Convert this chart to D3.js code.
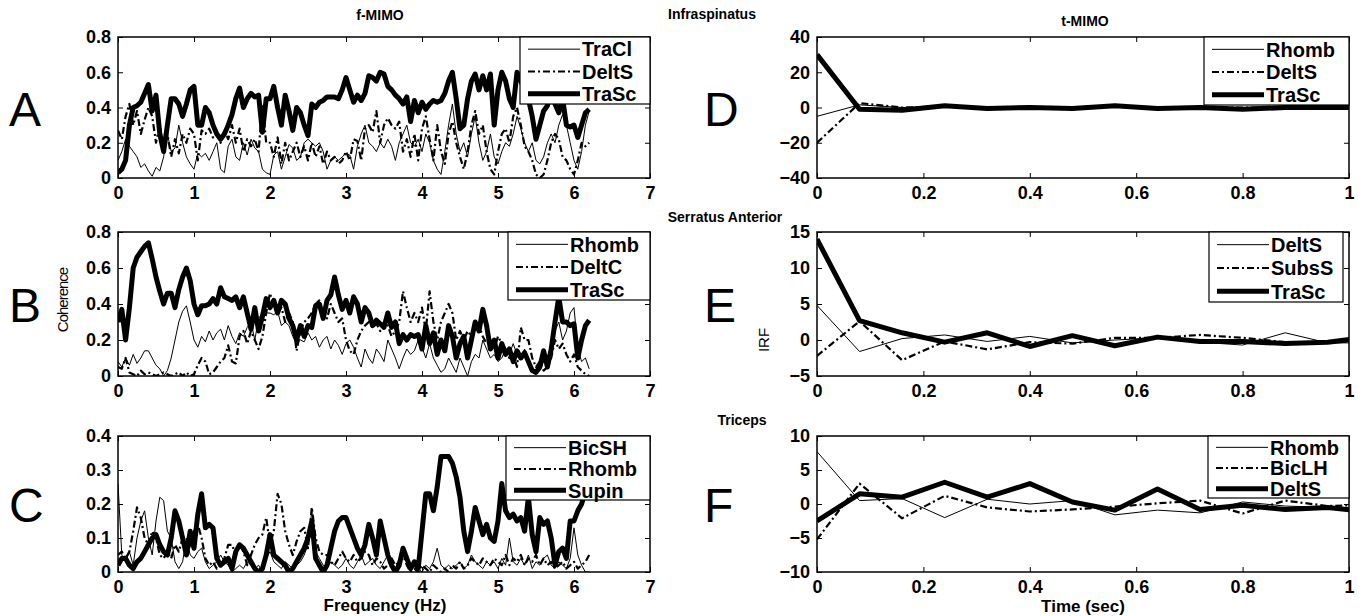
<!DOCTYPE html>
<html>
<head>
<meta charset="utf-8">
<script src="https://cdn.jsdelivr.net/npm/d3@7"></script>
<style>
  body { margin: 0; background: #fff; }
  svg { font-family: 'Liberation Sans', Arial, sans-serif; }
</style>
</head>
<body>
<svg id="fig" width="1366" height="616"></svg>
<script>
// frequency grid of the coherence panels (Hz)
const freqStep = 0.05;
const freqCount = 125;
const freq = d3.range(freqCount).map(i => +(i * freqStep).toFixed(2));

// IRF time lags (sec)
const lags = [0, 0.08, 0.16, 0.24, 0.32, 0.40, 0.48, 0.56, 0.64, 0.72, 0.80, 0.88, 0.96, 1.04];

// Panel A - Infraspinatus coherence
const aTraCl = [0.10,0.15,0.22,0.18,0.15,0.12,0.06,0.08,0.04,0.01,
  0.06,0.04,0.12,0.25,0.15,0.17,0.30,0.20,0.12,0.08,
  0.05,0.14,0.12,0.14,0.10,0.15,0.20,0.05,0.03,0.18,
  0.22,0.12,0.10,0.20,0.13,0.22,0.17,0.15,0.05,0.03,
  0.02,0.13,0.15,0.05,0.12,0.19,0.17,0.10,0.12,0.20,
  0.22,0.20,0.18,0.20,0.15,0.05,0.10,0.12,0.10,0.12,
  0.14,0.13,0.05,0.18,0.25,0.30,0.20,0.18,0.15,0.20,
  0.17,0.22,0.18,0.10,0.20,0.25,0.30,0.20,0.18,0.22,
  0.15,0.25,0.20,0.10,0.05,0.02,0.15,0.30,0.42,0.25,
  0.15,0.20,0.12,0.25,0.35,0.20,0.10,0.15,0.25,0.12,
  0.08,0.15,0.20,0.18,0.25,0.35,0.28,0.20,0.15,0.20,
  0.10,0.08,0.12,0.20,0.25,0.20,0.30,0.36,0.30,0.20,
  0.10,0.05,0.15,0.30,0.38];
const aDeltS = [0.27,0.22,0.35,0.42,0.30,0.38,0.25,0.33,0.40,0.35,
  0.20,0.30,0.15,0.25,0.12,0.22,0.14,0.25,0.20,0.28,
  0.25,0.10,0.27,0.25,0.28,0.23,0.25,0.20,0.27,0.22,
  0.30,0.20,0.28,0.15,0.22,0.18,0.22,0.15,0.42,0.20,
  0.20,0.12,0.23,0.08,0.20,0.10,0.15,0.20,0.12,0.18,
  0.10,0.20,0.12,0.18,0.08,0.15,0.10,0.12,0.08,0.10,
  0.15,0.10,0.22,0.21,0.10,0.28,0.30,0.26,0.38,0.20,
  0.30,0.34,0.30,0.28,0.32,0.15,0.22,0.12,0.25,0.10,
  0.28,0.35,0.22,0.10,0.30,0.15,0.08,0.25,0.32,0.20,
  0.12,0.05,0.15,0.30,0.38,0.25,0.30,0.15,0.05,0.02,
  0.15,0.25,0.28,0.20,0.35,0.40,0.30,0.18,0.15,0.10,
  0.02,0.00,0.02,0.10,0.20,0.25,0.22,0.12,0.10,0.05,
  0.02,0.10,0.20,0.18,0.20];
const aTraSc = [0.03,0.05,0.10,0.30,0.40,0.41,0.43,0.48,0.53,0.38,
  0.47,0.25,0.15,0.30,0.45,0.45,0.42,0.35,0.42,0.50,
  0.52,0.30,0.30,0.40,0.37,0.30,0.25,0.22,0.25,0.30,
  0.36,0.45,0.51,0.40,0.45,0.48,0.46,0.47,0.26,0.45,
  0.45,0.52,0.40,0.30,0.47,0.38,0.27,0.40,0.37,0.30,
  0.24,0.42,0.40,0.43,0.44,0.46,0.46,0.46,0.45,0.50,
  0.57,0.50,0.43,0.47,0.44,0.48,0.58,0.57,0.55,0.60,
  0.59,0.52,0.50,0.47,0.45,0.42,0.46,0.32,0.44,0.37,
  0.43,0.39,0.42,0.44,0.43,0.44,0.48,0.55,0.60,0.45,
  0.28,0.30,0.45,0.55,0.59,0.50,0.58,0.50,0.59,0.30,
  0.50,0.60,0.55,0.45,0.40,0.60,0.55,0.50,0.45,0.35,
  0.22,0.30,0.38,0.41,0.50,0.42,0.37,0.45,0.30,0.29,
  0.30,0.23,0.30,0.37,0.39];

// Panel B - Serratus Anterior coherence
const bRhomb = [0.08,0.05,0.10,0.06,0.12,0.07,0.10,0.14,0.14,0.10,
  0.06,0.04,0.00,0.03,0.10,0.20,0.30,0.36,0.39,0.30,
  0.20,0.16,0.22,0.19,0.25,0.20,0.24,0.26,0.20,0.28,
  0.22,0.18,0.24,0.22,0.27,0.30,0.20,0.32,0.35,0.35,
  0.35,0.34,0.36,0.28,0.30,0.28,0.22,0.18,0.20,0.19,
  0.24,0.20,0.22,0.16,0.20,0.22,0.15,0.20,0.17,0.12,
  0.18,0.20,0.16,0.10,0.05,0.15,0.10,0.07,0.15,0.12,
  0.08,0.20,0.15,0.10,0.04,0.10,0.15,0.12,0.14,0.20,
  0.16,0.10,0.18,0.10,0.06,0.02,0.04,0.10,0.06,0.02,
  0.10,0.05,0.00,0.08,0.12,0.10,0.20,0.15,0.10,0.12,
  0.08,0.10,0.15,0.12,0.18,0.12,0.10,0.15,0.08,0.02,
  0.02,0.03,0.08,0.10,0.15,0.25,0.30,0.20,0.25,0.35,
  0.38,0.15,0.08,0.10,0.04];
const bDeltC = [0.05,0.04,0.10,0.02,0.01,0.00,0.03,0.01,0.02,0.01,
  0.00,0.01,0.02,0.01,0.00,0.01,0.02,0.00,0.02,0.00,
  0.01,0.06,0.10,0.08,0.01,0.02,0.05,0.08,0.10,0.17,
  0.08,0.07,0.22,0.25,0.18,0.25,0.20,0.15,0.22,0.35,
  0.46,0.38,0.35,0.38,0.30,0.35,0.30,0.14,0.25,0.30,
  0.32,0.35,0.40,0.42,0.35,0.32,0.40,0.35,0.30,0.32,
  0.20,0.14,0.12,0.20,0.25,0.28,0.30,0.27,0.29,0.25,
  0.30,0.28,0.22,0.25,0.30,0.47,0.38,0.30,0.35,0.30,
  0.38,0.25,0.47,0.30,0.20,0.30,0.35,0.40,0.35,0.20,
  0.25,0.20,0.25,0.22,0.30,0.28,0.22,0.18,0.20,0.15,
  0.22,0.18,0.15,0.10,0.12,0.05,0.27,0.20,0.20,0.10,
  0.05,0.08,0.03,0.05,0.10,0.20,0.15,0.18,0.12,0.08,
  0.12,0.05,0.03,0.01,0.00];
const bTraSc = [0.30,0.37,0.20,0.38,0.60,0.66,0.69,0.72,0.74,0.65,
  0.55,0.47,0.40,0.46,0.46,0.38,0.48,0.55,0.60,0.53,
  0.40,0.34,0.39,0.39,0.40,0.43,0.40,0.49,0.44,0.43,
  0.42,0.44,0.38,0.44,0.35,0.26,0.38,0.25,0.33,0.43,
  0.38,0.42,0.35,0.42,0.40,0.32,0.28,0.20,0.28,0.22,
  0.28,0.27,0.39,0.40,0.32,0.42,0.45,0.55,0.45,0.37,
  0.42,0.35,0.44,0.40,0.30,0.38,0.35,0.28,0.31,0.29,
  0.27,0.35,0.27,0.30,0.18,0.23,0.20,0.23,0.22,0.23,
  0.15,0.28,0.18,0.24,0.12,0.20,0.14,0.28,0.22,0.10,
  0.18,0.22,0.10,0.20,0.30,0.25,0.37,0.28,0.15,0.20,
  0.10,0.18,0.12,0.15,0.08,0.14,0.10,0.13,0.08,0.03,
  0.02,0.05,0.14,0.05,0.15,0.30,0.44,0.30,0.30,0.28,
  0.29,0.10,0.20,0.28,0.31];

// Panel C - Triceps coherence
const cBicSH = [0.26,0.05,0.03,0.06,0.02,0.10,0.15,0.18,0.10,0.05,
  0.15,0.22,0.21,0.12,0.10,0.03,0.01,0.03,0.10,0.05,
  0.04,0.06,0.07,0.03,0.01,0.02,0.03,0.05,0.03,0.02,
  0.00,0.01,0.02,0.01,0.03,0.02,0.01,0.02,0.00,0.04,
  0.06,0.03,0.02,0.01,0.03,0.02,0.01,0.02,0.03,0.05,
  0.08,0.18,0.06,0.04,0.02,0.01,0.03,0.02,0.01,0.02,
  0.04,0.02,0.01,0.03,0.05,0.02,0.03,0.04,0.02,0.01,
  0.03,0.05,0.02,0.01,0.04,0.06,0.03,0.01,0.02,0.01,
  0.00,0.02,0.01,0.03,0.07,0.02,0.01,0.02,0.01,0.02,
  0.03,0.01,0.02,0.05,0.03,0.02,0.01,0.03,0.02,0.03,
  0.01,0.04,0.02,0.10,0.03,0.02,0.04,0.02,0.05,0.01,
  0.03,0.02,0.04,0.05,0.02,0.01,0.03,0.02,0.01,0.04,
  0.13,0.05,0.02,0.00,0.00];
const cRhomb = [0.05,0.06,0.04,0.06,0.12,0.19,0.16,0.10,0.08,0.12,
  0.10,0.05,0.04,0.06,0.04,0.08,0.06,0.10,0.05,0.08,
  0.12,0.14,0.10,0.04,0.02,0.03,0.01,0.02,0.04,0.08,
  0.08,0.05,0.08,0.06,0.02,0.05,0.08,0.10,0.11,0.16,
  0.08,0.12,0.23,0.20,0.12,0.08,0.05,0.09,0.12,0.13,
  0.07,0.19,0.10,0.06,0.05,0.05,0.03,0.02,0.04,0.06,
  0.04,0.03,0.05,0.03,0.04,0.06,0.05,0.02,0.04,0.03,
  0.01,0.02,0.04,0.02,0.03,0.05,0.02,0.00,0.01,0.00,
  0.02,0.01,0.00,0.02,0.01,0.00,0.01,0.00,0.02,0.01,
  0.03,0.01,0.02,0.04,0.03,0.02,0.04,0.03,0.02,0.04,
  0.03,0.02,0.05,0.02,0.04,0.03,0.05,0.02,0.04,0.03,
  0.05,0.02,0.04,0.02,0.03,0.01,0.02,0.03,0.01,0.02,
  0.03,0.01,0.02,0.03,0.05];
const cSupin = [0.02,0.04,0.04,0.02,0.01,0.03,0.04,0.06,0.08,0.10,
  0.11,0.08,0.06,0.05,0.10,0.18,0.15,0.10,0.05,0.12,
  0.07,0.17,0.23,0.13,0.14,0.13,0.04,0.02,0.03,0.04,
  0.01,0.06,0.08,0.07,0.05,0.03,0.01,0.00,0.01,0.05,
  0.11,0.05,0.04,0.03,0.02,0.00,0.01,0.03,0.05,0.07,
  0.10,0.15,0.04,0.02,0.00,0.02,0.07,0.12,0.15,0.16,
  0.16,0.13,0.10,0.07,0.05,0.08,0.14,0.10,0.05,0.15,
  0.10,0.05,0.02,0.00,0.02,0.07,0.04,0.01,0.03,0.01,
  0.12,0.23,0.23,0.18,0.25,0.34,0.34,0.34,0.32,0.28,
  0.22,0.12,0.06,0.12,0.19,0.15,0.11,0.14,0.10,0.09,
  0.15,0.26,0.18,0.16,0.17,0.15,0.16,0.12,0.22,0.11,
  0.06,0.16,0.14,0.15,0.10,0.02,0.06,0.07,0.04,0.15,
  0.15,0.18,0.20,0.24,0.28];

// Panel D - Infraspinatus IRF
const dRhomb = [-5, 1.5, 0, 0.5, 0, 0, 0, 0, 0, 0, 0, 0, 0, 0];
const dDeltS = [-20, 2.5, 0, 0.5, 0, 0, 0, 0.5, 0, 0, 0, 0, 0, 0];
const dTraSc = [30, -1, -1.5, 1, -0.5, 0, -0.5, 1, -0.5, 0, -1, 0, 0, 0];

// Panel E - Serratus Anterior IRF
const eDeltS = [4.8, -1.6, 0.2, 0.7, -0.2, 0.5, -0.4, 0.0, 0.3, -0.3, -0.7, 1.0, -0.4, -0.4];
const eSubsS = [-2.2, 2.6, -2.8, -0.2, -1.3, -0.3, -0.5, 0.3, 0.3, 0.7, 0.3, -0.3, -0.3, -0.2];
const eTraSc = [14, 2.7, 1.0, -0.3, 1.0, -0.9, 0.6, -0.8, 0.4, -0.2, -0.2, -0.5, -0.3, 0.4];

// Panel F - Triceps IRF
const fRhomb = [7.7, 0.5, 0.8, -2.0, 0.7, 0.0, 0.5, -1.6, -0.9, -1.3, 0.3, -0.3, -0.5, -0.7];
const fBicLH = [-5.2, 3.0, -2.1, 1.2, -0.5, -1.1, -0.8, -0.4, 0.1, 0.5, -1.4, 0.5, -0.3, -0.1];
const fDeltS = [-2.5, 1.5, 1.0, 3.2, 1.0, 3.0, 0.3, -0.9, 2.2, -0.8, -0.2, -0.8, -0.5, -1.2];

const freqTicks = [0, 1, 2, 3, 4, 5, 6, 7];
const timeTicks = [0, 0.2, 0.4, 0.6, 0.8, 1];

// line styles: thin solid, dash-dot, thick solid
const styles = [
  { width: 1, dash: null },
  { width: 2.2, dash: '7,3,2,3' },
  { width: 5, dash: null }
];

const leftX = [118, 650];
const rightX = [817, 1349];
const rowY = [[37, 178], [232, 376], [436, 572]];

const panels = [
  { letter: 'A', x: freq, xr: leftX, yr: rowY[0], xd: [0, 7], xt: freqTicks, yd: [0, 0.8], yt: [0, 0.2, 0.4, 0.6, 0.8],
    series: [aTraCl, aDeltS, aTraSc], names: ['TraCl', 'DeltS', 'TraSc'], leg: [520, 37, 650, 104] },
  { letter: 'B', x: freq, xr: leftX, yr: rowY[1], xd: [0, 7], xt: freqTicks, yd: [0, 0.8], yt: [0, 0.2, 0.4, 0.6, 0.8],
    series: [bRhomb, bDeltC, bTraSc], names: ['Rhomb', 'DeltC', 'TraSc'], leg: [508, 232, 650, 300] },
  { letter: 'C', x: freq, xr: leftX, yr: rowY[2], xd: [0, 7], xt: freqTicks, yd: [0, 0.4], yt: [0, 0.1, 0.2, 0.3, 0.4],
    series: [cBicSH, cRhomb, cSupin], names: ['BicSH', 'Rhomb', 'Supin'], leg: [506, 436, 650, 500] },
  { letter: 'D', x: lags, xr: rightX, yr: rowY[0], xd: [0, 1], xt: timeTicks, yd: [-40, 40], yt: [-40, -20, 0, 20, 40],
    series: [dRhomb, dDeltS, dTraSc], names: ['Rhomb', 'DeltS', 'TraSc'], leg: [1204, 37, 1349, 105] },
  { letter: 'E', x: lags, xr: rightX, yr: rowY[1], xd: [0, 1], xt: timeTicks, yd: [-5, 15], yt: [-5, 0, 5, 10, 15],
    series: [eDeltS, eSubsS, eTraSc], names: ['DeltS', 'SubsS', 'TraSc'], leg: [1209, 232, 1343, 302] },
  { letter: 'F', x: lags, xr: rightX, yr: rowY[2], xd: [0, 1], xt: timeTicks, yd: [-10, 10], yt: [-10, -5, 0, 5, 10],
    series: [fRhomb, fBicLH, fDeltS], names: ['Rhomb', 'BicLH', 'DeltS'], leg: [1208, 436, 1349, 498] }
];

const svg = d3.select('#fig');

panels.forEach((p, pi) => {
  const xScale = d3.scaleLinear().domain(p.xd).range(p.xr);
  const yScale = d3.scaleLinear().domain(p.yd).range([p.yr[1], p.yr[0]]);
  const g = svg.append('g');
  const clipId = 'clip' + pi;

  g.append('clipPath').attr('id', clipId)
    .append('rect')
    .attr('x', p.xr[0]).attr('y', p.yr[0])
    .attr('width', p.xr[1] - p.xr[0]).attr('height', p.yr[1] - p.yr[0]);

  // series
  const line = d3.line().x((d, i) => xScale(p.x[i])).y(d => yScale(d));
  p.series.forEach((s, si) => {
    g.append('path')
      .attr('clip-path', `url(#${clipId})`)
      .attr('d', line(s))
      .attr('fill', 'none')
      .attr('stroke', '#000')
      .attr('stroke-width', styles[si].width)
      .attr('stroke-dasharray', styles[si].dash)
      .attr('stroke-linejoin', 'round');
  });

  // axes with inward ticks on all sides (matlab box)
  const fmt = d => d3.format('~g')(d);
  const bottom = g.append('g').attr('transform', `translate(0,${p.yr[1]})`)
    .call(d3.axisBottom(xScale).tickValues(p.xt).tickSize(-5).tickPadding(8).tickFormat(fmt));
  const left = g.append('g').attr('transform', `translate(${p.xr[0]},0)`)
    .call(d3.axisLeft(yScale).tickValues(p.yt).tickSize(-5).tickPadding(7).tickFormat(fmt));
  const top = g.append('g').attr('transform', `translate(0,${p.yr[0]})`)
    .call(d3.axisTop(xScale).tickValues(p.xt).tickSize(-5).tickFormat(''));
  const right = g.append('g').attr('transform', `translate(${p.xr[1]},0)`)
    .call(d3.axisRight(yScale).tickValues(p.yt).tickSize(-5).tickFormat(''));
  [bottom, left, top, right].forEach(a => {
    a.select('.domain').remove();
    a.selectAll('line').attr('stroke', '#000');
    a.selectAll('text').attr('fill', '#000').style('font-size', '18px').style('font-weight', 'bold');
  });

  g.append('rect')
    .attr('x', p.xr[0]).attr('y', p.yr[0])
    .attr('width', p.xr[1] - p.xr[0]).attr('height', p.yr[1] - p.yr[0])
    .attr('fill', 'none').attr('stroke', '#000').attr('stroke-width', 1.5);

  // legend
  const [lx0, ly0, lx1, ly1] = p.leg;
  const lg = g.append('g');
  lg.append('rect')
    .attr('x', lx0).attr('y', ly0).attr('width', lx1 - lx0).attr('height', ly1 - ly0)
    .attr('fill', '#fff').attr('stroke', '#000').attr('stroke-width', 1.2);
  const rowH = (ly1 - ly0) / 3;
  p.names.forEach((n, si) => {
    const cy = ly0 + rowH * (si + 0.5) + 1;
    lg.append('line')
      .attr('x1', lx0 + 8).attr('x2', lx0 + 60)
      .attr('y1', cy).attr('y2', cy)
      .attr('stroke', '#000')
      .attr('stroke-width', styles[si].width)
      .attr('stroke-dasharray', styles[si].dash);
    lg.append('text')
      .attr('x', lx0 + 62).attr('y', cy)
      .attr('dy', '0.36em')
      .style('font-size', '20px')
      .style('font-weight', 'bold')
      .text(n);
  });

  // panel letter
  svg.append('text')
    .attr('x', p.xr[0] === leftX[0] ? 9 : 704)
    .attr('y', (p.yr[0] + p.yr[1]) / 2 + 18)
    .style('font-size', '48px')
    .text(p.letter);
});

// titles and labels
const labels = [
  { t: 'f-MIMO', x: 380, y: 20, s: 14 },
  { t: 'Infraspinatus', x: 712, y: 19, s: 14 },
  { t: 't-MIMO', x: 1085, y: 26, s: 14 },
  { t: 'Serratus Anterior', x: 725, y: 222, s: 14 },
  { t: 'Triceps', x: 742, y: 425, s: 14 },
  { t: 'Frequency (Hz)', x: 385, y: 611, s: 17 },
  { t: 'Time (sec)', x: 1083, y: 612, s: 17 }
];
labels.forEach(l => {
  svg.append('text')
    .attr('x', l.x).attr('y', l.y)
    .attr('text-anchor', 'middle')
    .style('font-size', l.s + 'px')
    .style('font-weight', 'bold')
    .text(l.t);
});

svg.append('text')
  .attr('transform', 'translate(68,300) rotate(-90)')
  .attr('text-anchor', 'middle')
  .style('font-size', '15px')
  .style('letter-spacing', '-1px')
  .text('Coherence');

svg.append('text')
  .attr('transform', 'translate(769,340) rotate(-90)')
  .attr('text-anchor', 'middle')
  .style('font-size', '15px')
  .text('IRF');
</script>
</body>
</html>
